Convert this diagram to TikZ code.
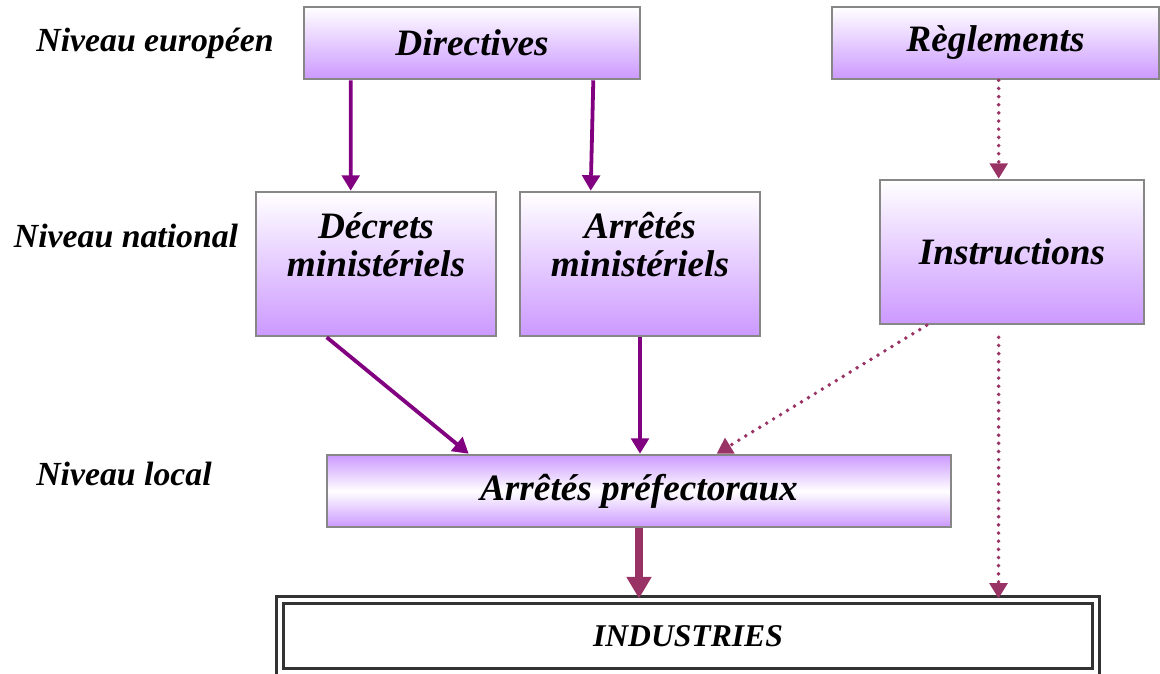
\documentclass[tikz,border=0pt]{standalone}
\usepackage{fontspec}
\setmainfont{Liberation Serif}
\usepackage{tikz}
\usetikzlibrary{positioning}
\usetikzlibrary{calc}
\usetikzlibrary{arrows.meta}
\definecolor{lavande}{RGB}{204,153,255}
\definecolor{violet1}{RGB}{128,0,128}
\definecolor{prune}{RGB}{153,51,102}
\definecolor{bordgris}{RGB}{135,135,135}
\tikzset{every picture/.style={line width=1pt},
boite/.style={draw=bordgris,line width=1.8pt,top color=white,bottom color=lavande,inner sep=0pt},
boitemil/.style={draw=bordgris,line width=1.8pt,top color=lavande,bottom color=lavande,middle color=white,inner sep=0pt},
texte/.style={font=\fontsize{26.5}{27}\selectfont\bfseries\itshape,align=center},
niveau/.style={font=\fontsize{24}{28}\selectfont\bfseries\itshape},
fleche/.style={violet1,line width=2.7pt,-{Triangle[length=11pt,width=12.5pt]}},
pointille/.style={prune,line width=2.8pt,dash pattern=on 0pt off 5.8pt,line cap=round,-{Triangle[length=11pt,width=12.5pt]}},
grossefleche/.style={prune,line width=5.5pt,-{Triangle[length=15.5pt,width=17pt]}}}

\begin{document}
\begin{tikzpicture}[x=0.025cm, y=-0.025cm]
\useasboundingbox (0,0) rectangle (1160,673);
% les trois niveaux
\node (europeen) at (155,43) [niveau] {Niveau européen};
\node (national) at (126,236) [niveau] {Niveau national};
\node (local) at (124,474) [niveau] {Niveau local};
% boites
\node (directives) at (472,43) [boite, texte, minimum width=8.4cm, minimum height=1.8cm] {Directives};
\node (reglements) at (995.5,43) [boite, texte, minimum width=8.175cm, minimum height=1.8cm] {Règlements};
\node (decrets) at (376,264) [boite, minimum width=6cm, minimum height=3.6cm] {};
\node (arretesmin) at (640,264) [boite, minimum width=6cm, minimum height=3.6cm] {};
\node (instructions) at (1012,252) [boite, texte, minimum width=6.6cm, minimum height=3.6cm] {Instructions};
\node (decrets-t) at ($(decrets.center)+(0,-19)$) [texte] {Décrets\\ministériels};
\node (arretesmin-t) at ($(arretesmin.center)+(0,-19)$) [texte] {Arrêtés\\ministériels};
\node (prefectoraux) at (639,491) [boitemil, texte, minimum width=15.6cm, minimum height=1.8cm] {Arrêtés préfectoraux};
\node (industries) at (688,636) [draw=black!80, double=white, line width=2pt, double distance=2.6pt, minimum width=20.4cm, minimum height=1.8cm, font=\fontsize{22.5}{27}\selectfont\bfseries\itshape] {INDUSTRIES};
% fleches
\draw[fleche] ($(directives.south west)+(48,0)$) -- ($(decrets.north west)+(96,0)$);
\draw[fleche] ($(directives.south east)+(-48,0)$) -- ($(arretesmin.north west)+(72,0)$);
\draw[pointille] ($(reglements.south west)+(168,0)$) -- ($(instructions.north west)+(120,0)$);
\draw[fleche] ($(decrets.south west)+(72,0)$) -- ($(prefectoraux.north west)+(143,0)$);
\draw[fleche] (arretesmin.south) -- (arretesmin.south |- prefectoraux.north);
\draw[pointille] ($(instructions.south west)+(48,0)$) -- ($(prefectoraux.north west)+(391,0)$);
\draw[pointille] ($(instructions.south west)+(120,12)$) -- ($(industries.north west)+(720,0)$);
\draw[grossefleche] (prefectoraux.south) -- (prefectoraux.south |- industries.north);
\end{tikzpicture}
\end{document}
